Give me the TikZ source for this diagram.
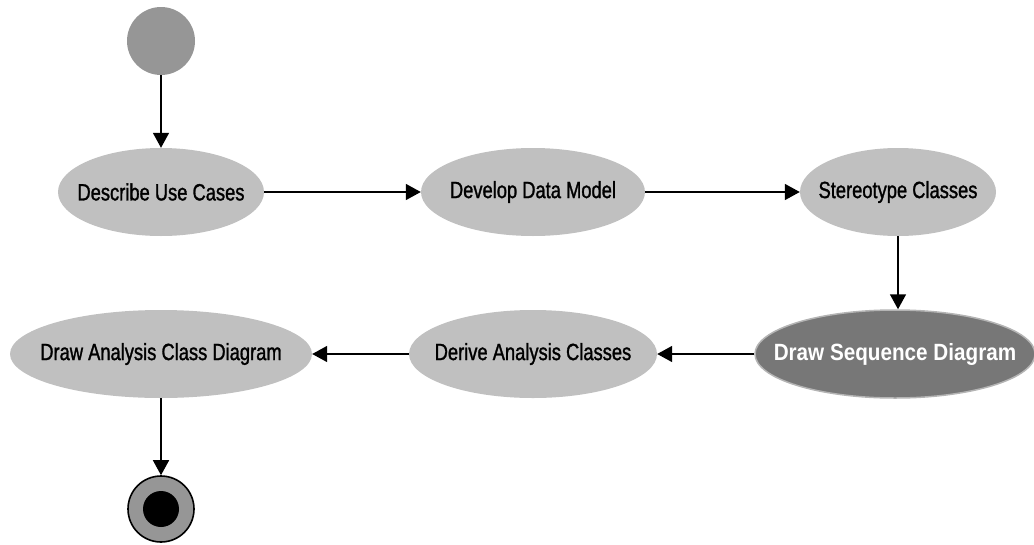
\documentclass[tikz,border=0pt]{standalone}
\usepackage{fontspec}
\setmainfont{Liberation Sans}[FakeStretch=0.78,FakeBold=1.2,BoldFeatures={FakeStretch=0.88,FakeBold=0}]
\usetikzlibrary{shapes.geometric,arrows.meta}
\definecolor{actfill}{HTML}{C0C0C0}
\definecolor{startgray}{HTML}{969696}
\definecolor{focusfill}{HTML}{777777}
\definecolor{focusrim}{HTML}{B4B4B4}
\newcommand{\actlabel}[1]{\makebox[0pt][c]{#1}}
\begin{document}
\begin{tikzpicture}[x=1pt,y=-1pt,
  activity/.style={ellipse, fill=actfill, draw=none, inner sep=0pt,
    minimum height=88pt, font=\fontsize{23.5}{28}\selectfont},
  focus/.style={activity, fill=focusfill, draw=focusrim, line width=1.5pt,
    text=white, font=\fontsize{23.5}{28}\selectfont\bfseries},
  flow/.style={line width=1.6pt, -{Triangle[width=16pt,length=15pt]}}]
\useasboundingbox (0,0) rectangle (1034,544);
% initial and final states
\node[circle, fill=startgray, minimum size=68pt, inner sep=0pt] (init) at (161,41) {};
\node[circle, fill=startgray, draw=black, line width=1.6pt, minimum size=66pt, inner sep=0pt] (final) at (161,509) {};
\fill[black] (final.center) circle (18pt);
% activities
\node[activity, minimum width=206pt] (usecases) at (161,192) {\actlabel{Describe Use Cases}};
\node[activity, minimum width=224pt] (datamodel) at (533,192) {\actlabel{Develop Data Model}};
\node[activity, minimum width=196pt] (stereo) at (898,192) {\actlabel{Stereotype Classes}};
\node[focus, minimum width=280pt] (seqdiag) at (895,354) {\actlabel{Draw Sequence Diagram}};
\node[activity, minimum width=248pt] (derive) at (533,354) {\actlabel{Derive Analysis Classes}};
\node[activity, minimum width=302pt] (classdiag) at (161,354) {\actlabel{Draw Analysis Class Diagram}};
% control flow
\draw[flow] (init) -- (usecases);
\draw[flow] (usecases) -- (datamodel);
\draw[flow] (datamodel) -- (stereo);
\draw[flow] (stereo.south) -- (stereo.south |- seqdiag.north);
\draw[flow] (seqdiag) -- (derive);
\draw[flow] (derive) -- (classdiag);
\draw[flow] (classdiag) -- (final);
\end{tikzpicture}
\end{document}
